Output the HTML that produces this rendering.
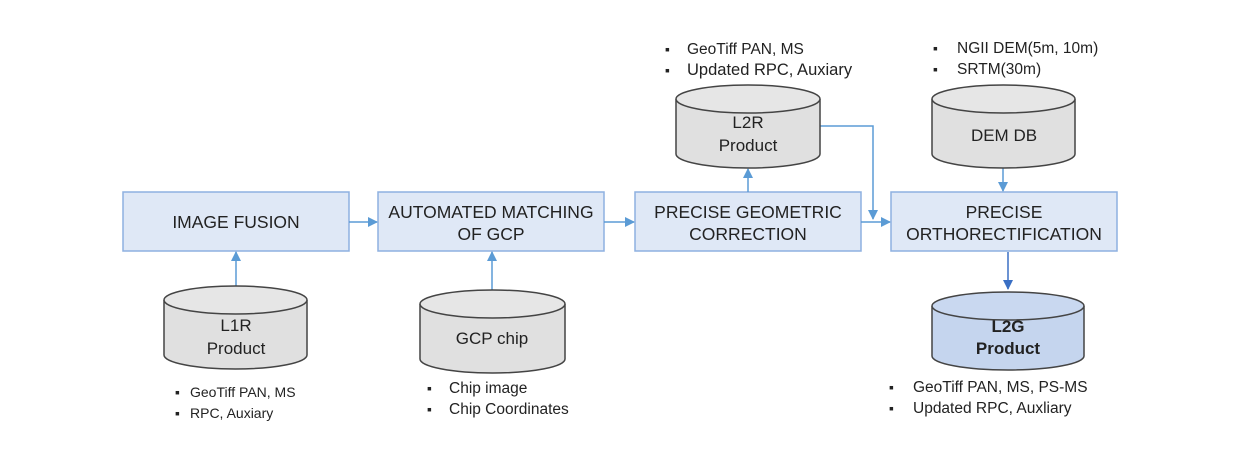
<!DOCTYPE html>
<html><head><style>
body{margin:0;background:#fff;}
.t{font-family:"Liberation Sans","Noto Sans CJK KR",sans-serif;fill:#222;}
</style></head><body>
<svg width="1240" height="450" xmlns="http://www.w3.org/2000/svg">
<defs>
<marker id="a" markerWidth="10" markerHeight="10" refX="9" refY="5" orient="auto" markerUnits="userSpaceOnUse"><path d="M0,0 L10,5 L0,10z" fill="#5b9bd5"/></marker>
<marker id="b" markerWidth="10" markerHeight="10" refX="9" refY="5" orient="auto" markerUnits="userSpaceOnUse"><path d="M0,0 L10,5 L0,10z" fill="#3a6fc4"/></marker>
</defs>
<g fill="#dfe8f6" stroke="#8eb0e0" stroke-width="1.5">
<rect x="123" y="192" width="226" height="59"/>
<rect x="378" y="192" width="226" height="59"/>
<rect x="635" y="192" width="226" height="59"/>
<rect x="891" y="192" width="226" height="59"/>
</g>
<g class="t" font-size="17.5" text-anchor="middle">
<text x="236" y="228">IMAGE FUSION</text>
<text x="491" y="218">AUTOMATED MATCHING</text>
<text x="491" y="240">OF GCP</text>
<text x="748" y="218">PRECISE GEOMETRIC</text>
<text x="748" y="240">CORRECTION</text>
<text x="1004" y="218">PRECISE</text>
<text x="1004" y="240">ORTHORECTIFICATION</text>
</g>
<g stroke="#5b9bd5" stroke-width="1.5" fill="none">
<line x1="349" y1="222" x2="377" y2="222" marker-end="url(#a)"/>
<line x1="604" y1="222" x2="634" y2="222" marker-end="url(#a)"/>
<line x1="861" y1="222" x2="890" y2="222" marker-end="url(#a)"/>
<line x1="236" y1="286" x2="236" y2="252" marker-end="url(#a)"/>
<line x1="492" y1="290" x2="492" y2="252" marker-end="url(#a)"/>
<line x1="748" y1="192" x2="748" y2="169" marker-end="url(#a)"/>
<polyline points="820,126 873,126 873,219" marker-end="url(#a)"/>
<line x1="1003" y1="168" x2="1003" y2="191" marker-end="url(#a)"/>
</g>
<line x1="1008" y1="252" x2="1008" y2="289" stroke="#3a6fc4" stroke-width="1.5" marker-end="url(#b)"/>
<g stroke="#444" stroke-width="1.5">
<path d="M164,300 v55 a71.5,14 0 0 0 143,0 v-55" fill="#e0e0e0"/><ellipse cx="235.5" cy="300" rx="71.5" ry="14" fill="#e6e6e6"/>
<path d="M420,304 v55 a72.5,14 0 0 0 145,0 v-55" fill="#e0e0e0"/><ellipse cx="492.5" cy="304" rx="72.5" ry="14" fill="#e6e6e6"/>
<path d="M676,99 v55 a72,14 0 0 0 144,0 v-55" fill="#e0e0e0"/><ellipse cx="748" cy="99" rx="72" ry="14" fill="#e6e6e6"/>
<path d="M932,99 v55 a71.5,14 0 0 0 143,0 v-55" fill="#e0e0e0"/><ellipse cx="1003.5" cy="99" rx="71.5" ry="14" fill="#e6e6e6"/>
<path d="M932,306 v50 a76,14 0 0 0 152,0 v-50" fill="#c5d5ee"/><ellipse cx="1008" cy="306" rx="76" ry="14" fill="#c9d8f0"/>
</g>
<g class="t" font-size="17" text-anchor="middle">
<text x="236" y="331">L1R</text><text x="236" y="354">Product</text>
<text x="492" y="344">GCP chip</text>
<text x="748" y="128">L2R</text><text x="748" y="151">Product</text>
<text x="1004" y="141">DEM DB</text>
<text x="1008" y="332" font-weight="bold">L2G</text><text x="1008" y="354" font-weight="bold">Product</text>
</g>
<g class="t" font-size="14">
<text x="175" y="397">▪</text><text x="190" y="397">GeoTiff PAN, MS</text>
<text x="175" y="418">▪</text><text x="190" y="418">RPC, Auxiary</text>
<text x="427" y="393">▪</text>
<text x="427" y="414">▪</text>
<text x="665" y="54">▪</text>
<text x="665" y="75">▪</text>
<text x="933" y="53">▪</text>
<text x="933" y="74">▪</text>
<text x="889" y="392">▪</text>
<text x="889" y="413">▪</text>
</g>
<g class="t" font-size="15.5">
<text x="449" y="393">Chip image</text>
<text x="449" y="414">Chip Coordinates</text>
<text x="687" y="54">GeoTiff PAN, MS</text>
<text x="687" y="75" font-size="16.5">Updated RPC, Auxiary</text>
<text x="957" y="53">NGII DEM(5m, 10m)</text>
<text x="957" y="74">SRTM(30m)</text>
<text x="913" y="392">GeoTiff PAN, MS, PS-MS</text>
<text x="913" y="413">Updated RPC, Auxliary</text>
</g>
</svg>
</body></html>
